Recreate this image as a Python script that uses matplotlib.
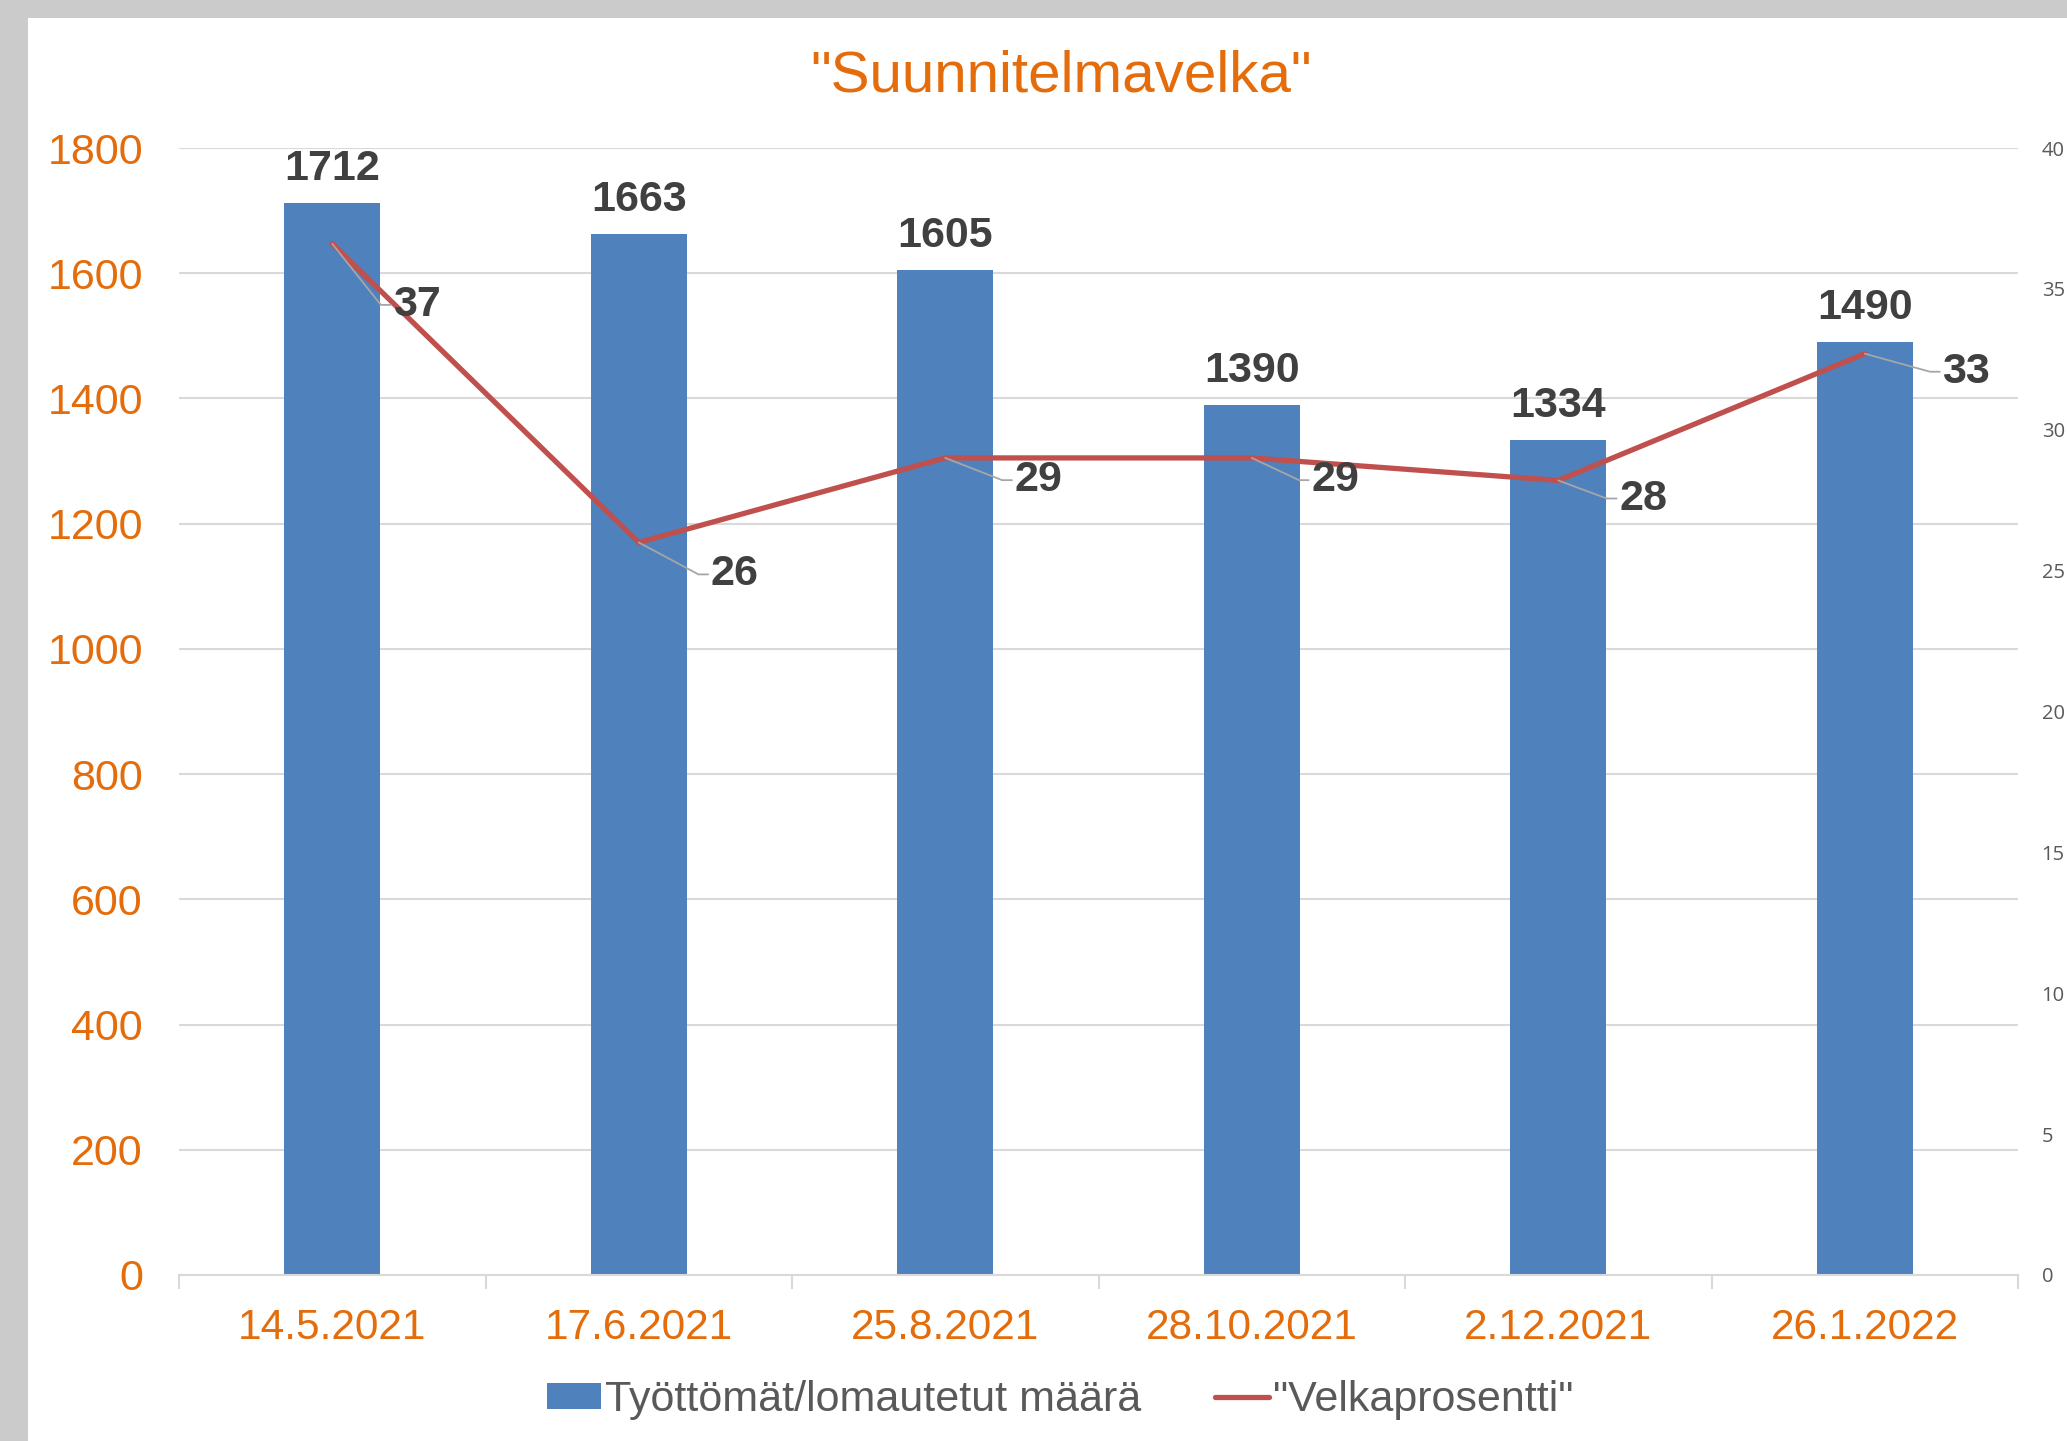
import math
import matplotlib
matplotlib.use("Agg")
import matplotlib.pyplot as plt
from matplotlib.patches import Rectangle
from matplotlib.ticker import FixedLocator, NullFormatter

# ---- data ----
categories = ["14.5.2021", "17.6.2021", "25.8.2021", "28.10.2021", "2.12.2021", "26.1.2022"]
counts = [1712, 1663, 1605, 1390, 1334, 1490]
debt_pct = [36.6, 26.0, 29.0, 29.0, 28.2, 32.7]
left_ticks = [0, 200, 400, 600, 800, 1000, 1200, 1400, 1600, 1800]
right_ticks = [0, 5, 10, 15, 20, 25, 30, 35, 40]
title = '"Suunnitelmavelka"'
bar_label = "Työttömät/lomautetut määrä"
line_label = '"Velkaprosentti"'

# ---- style ----
ORANGE = "#E46C0A"
BLUE = "#4F81BD"
RED = "#C0504D"
DARK = "#404040"
GRAY_TXT = "#595959"
GRID = "#D9D9D9"
ARIAL = ["Liberation Sans", "DejaVu Sans"]

fig = plt.figure(figsize=(20.67, 14.41), dpi=100)
fig.patch.set_facecolor("white")

# shadow border (left & top)
fig.patches.append(Rectangle((0, 0), 28 / 2067, 1, transform=fig.transFigure,
                             facecolor="#CBCBCB", edgecolor="none", zorder=-10))
fig.patches.append(Rectangle((0, 1 - 18 / 1441), 1, 18 / 1441, transform=fig.transFigure,
                             facecolor="#CBCBCB", edgecolor="none", zorder=-10))

ax = fig.add_axes([179 / 2067, 1 - 1275 / 1441, (2018 - 179) / 2067, (1275 - 148) / 1441])
ax2 = ax.twinx()

x = list(range(len(categories)))
ax.bar(x, counts, width=0.314, color=BLUE, zorder=2)
ax.set_xlim(-0.5, len(categories) - 0.5)
ax.set_ylim(0, 1800)
ax.set_yticks(left_ticks)
ax.set_yticklabels([str(t) for t in left_ticks], fontsize=31, color=ORANGE, family=ARIAL)
ax.tick_params(axis="y", length=0, pad=26)
ax.grid(axis="y", color=GRID, linewidth=1.5, zorder=0)
ax.set_axisbelow(True)

ax.set_xticks(x)
ax.set_xticklabels(categories, fontsize=30.5, color=ORANGE, family=ARIAL)
ax.xaxis.set_minor_locator(FixedLocator([i - 0.5 for i in range(len(categories) + 1)]))
ax.xaxis.set_minor_formatter(NullFormatter())
ax.tick_params(axis="x", which="major", length=0, pad=24)
ax.tick_params(axis="x", which="minor", length=10, width=1.5, color=GRID)

for s in ["top", "left", "right"]:
    ax.spines[s].set_visible(False)
    ax2.spines[s].set_visible(False)
ax.spines["bottom"].set_color(GRID)
ax.spines["bottom"].set_linewidth(1.5)
ax2.spines["bottom"].set_visible(False)

for xi, v in zip(x, counts):
    ax.annotate(str(v), (xi, v), xytext=(0, 10), textcoords="offset points",
                ha="center", va="bottom", fontsize=31, fontweight="bold",
                color=DARK, family=ARIAL, zorder=5)

# line on secondary axis
ax2.set_ylim(0, 40)
ax2.set_yticks(right_ticks)
ax2.set_yticklabels([str(t) for t in right_ticks], fontsize=14.5, color=GRAY_TXT,
                    family=["Open Sans", "DejaVu Sans"])
ax2.tick_params(axis="y", length=0, pad=17)
ax2.plot(x, debt_pct, color=RED, linewidth=3.8, solid_capstyle="round",
         solid_joinstyle="round", zorder=4)

# line labels with leader lines (offsets in points: text left edge)
label_offsets = [(44, -44), (52, -23), (50, -16), (43, -16), (44, -13), (56, -13)]
gap = 9
for xi, v, (dx, dy) in zip(x, debt_pct, label_offsets):
    angB = math.degrees(math.atan2(dy, dx - gap))
    ax2.annotate(f"{v:.0f}", (xi, v), xytext=(dx, dy), textcoords="offset points",
                 ha="left", va="center", fontsize=31, fontweight="bold",
                 color=DARK, family=ARIAL, zorder=6,
                 arrowprops=dict(arrowstyle="-", color="#A6A6A6", lw=1.3,
                                 shrinkA=0, shrinkB=0,
                                 connectionstyle=f"angle,angleA=0,angleB={angB},rad=0"))

fig.text(0.5135, 1 - 77 / 1441, title, ha="center", va="center", fontsize=42,
         color=ORANGE, family=ARIAL)

# legend
h1 = Rectangle((0, 0), 1, 1, facecolor=BLUE, edgecolor="none")
h2 = plt.Line2D([], [], color=RED, linewidth=3.8, solid_capstyle="round")
leg = fig.legend([h1, h2], [bar_label, line_label], loc="center",
                 bbox_to_anchor=(0.513, 1 - 1400 / 1441), ncol=2, frameon=False,
                 prop={"family": ARIAL, "size": 31}, labelcolor=GRAY_TXT,
                 handlelength=1.25, handleheight=0.55, handletextpad=0.1,
                 columnspacing=1.7)

fig.savefig("out.png", dpi=100)
